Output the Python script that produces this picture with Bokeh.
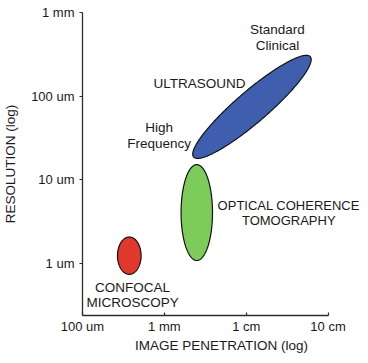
import numpy as np
from bokeh.plotting import figure
from bokeh.models import FixedTicker, ColumnDataSource, LabelSet
from bokeh.core.properties import value
from bokeh.embed import file_html
from bokeh.resources import INLINE

# ---- data ----
x_ticks = [100, 1000, 10000, 100000]          # image penetration, um
x_tick_labels = ["100 um", "1 mm", "1 cm", "10 cm"]
y_ticks = [1, 10, 100, 1000]                  # resolution, um
y_tick_labels = ["1 um", "10 um", "100 um", "1 mm"]

modalities = ["Confocal microscopy", "Optical coherence tomography", "Ultrasound"]
center_x_um = [373, 2490, 11750]
center_y_um = [1.24, 4.06, 74.5]
semi_a_decades = [0.144, 0.192, 0.931]   # semi-axis along tilt direction (decades)
semi_b_decades = [0.223, 0.573, 0.19]    # perpendicular semi-axis (decades)
tilt_deg = [0, 0, 40]
fill_colors = ["#e0392b", "#7dcb5a", "#3f5fae"]

label_text = ["Standard", "Clinical", "ULTRASOUND", "High", "Frequency",
              "OPTICAL COHERENCE", "TOMOGRAPHY", "CONFOCAL", "MICROSCOPY"]
label_x_um = [24100, 24100, 2680, 863, 863, 33100, 33100, 409, 409]
label_y_um = [557, 357, 126, 37.4, 23.8, 4.39, 2.87, 0.460, 0.299]
label_font_size = ["13.5px", "13.5px", "13.5px", "13.5px", "13.5px",
                   "13px", "13px", "13.5px", "13.5px"]

FONT = "Liberation Sans"
TXT = "#1a1a1a"

# ---- build ellipses in log space ----
t = np.linspace(0, 2 * np.pi, 240)
xs, ys = [], []
for cx, cy, a, b, th in zip(center_x_um, center_y_um, semi_a_decades, semi_b_decades, tilt_deg):
    r = np.radians(th)
    lx = np.log10(cx) + a * np.cos(r) * np.cos(t) - b * np.sin(r) * np.sin(t)
    ly = np.log10(cy) + a * np.sin(r) * np.cos(t) + b * np.cos(r) * np.sin(t)
    xs.append(list(10 ** lx))
    ys.append(list(10 ** ly))

p = figure(width=360, height=355, x_axis_type="log", y_axis_type="log",
           x_range=(100, 249000), y_range=(0.239, 1000),
           output_backend="svg", toolbar_location=None,
           min_border_left=77, min_border_right=0, min_border_top=12, min_border_bottom=34)
p.outline_line_color = None
p.xgrid.visible = False
p.ygrid.visible = False
p.background_fill_color = "white"
p.border_fill_color = "white"

src = ColumnDataSource(dict(xs=xs, ys=ys, color=fill_colors, name=modalities))
p.patches("xs", "ys", source=src, fill_color="color", line_color="#111111", line_width=1.2)

lsrc = ColumnDataSource(dict(x=label_x_um, y=label_y_um, text=label_text, size=label_font_size))
p.add_layout(LabelSet(x="x", y="y", text="text", source=lsrc,
                      text_align="center", text_baseline="alphabetic",
                      text_font=value(FONT), text_font_size="size",
                      text_color=TXT))

for ax, ticks, labs in [(p.xaxis[0], x_ticks, x_tick_labels), (p.yaxis[0], y_ticks, y_tick_labels)]:
    ax.ticker = FixedTicker(ticks=ticks, minor_ticks=[])
    ax.major_label_overrides = {tk: lb for tk, lb in zip(ticks, labs)}
    ax.axis_line_color = "#2b2b2b"
    ax.axis_line_width = 1.3
    ax.major_tick_line_color = "#2b2b2b"
    ax.major_tick_line_width = 1.2
    ax.minor_tick_line_color = None
    ax.major_label_text_font = FONT
    ax.major_label_text_font_size = "13px"
    ax.major_label_text_color = TXT
    ax.axis_label_text_font = FONT
    ax.axis_label_text_font_size = "13.5px"
    ax.axis_label_text_font_style = "normal"
    ax.axis_label_text_color = TXT

p.xaxis.bounds = (x_ticks[0], x_ticks[-1])
p.xaxis.axis_label = "IMAGE PENETRATION (log)"
p.xaxis.major_tick_in = 3
p.xaxis.major_tick_out = 0
p.xaxis.major_label_standoff = 3
p.xaxis.axis_label_standoff = 1

p.yaxis.axis_label = "RESOLUTION (log)"
p.yaxis.major_tick_in = 0
p.yaxis.major_tick_out = 3
p.yaxis.major_label_standoff = 5
p.yaxis.axis_label_standoff = 10

open("out.html", "w").write(file_html(p, INLINE))
